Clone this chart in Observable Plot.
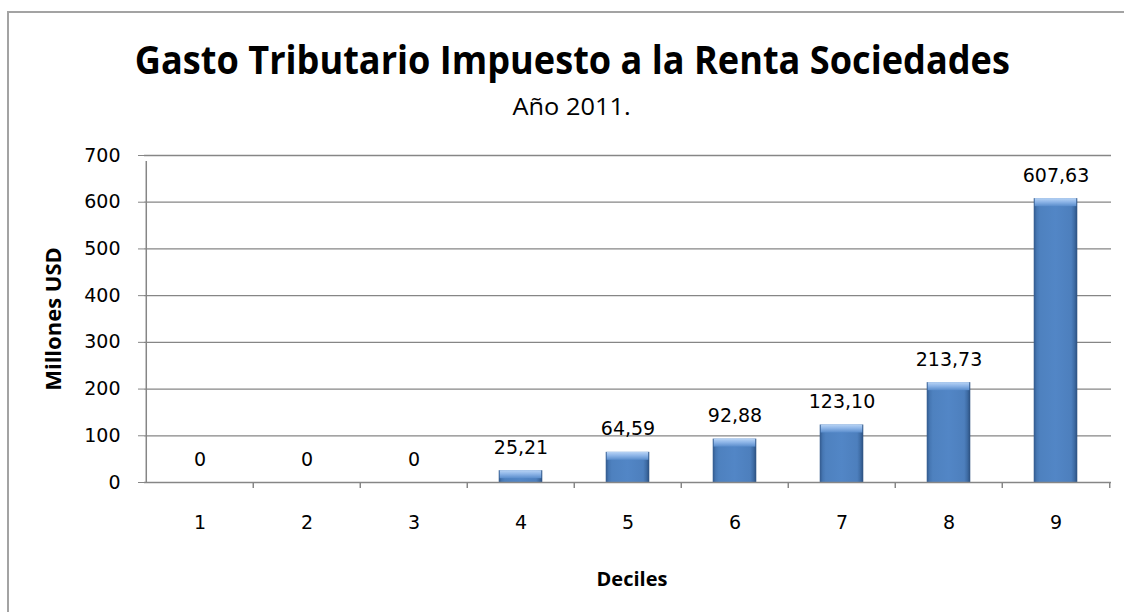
<!DOCTYPE html>
<html>
<head>
<meta charset="utf-8">
<script src="https://cdn.jsdelivr.net/npm/d3@7"></script>
<script src="https://cdn.jsdelivr.net/npm/@observablehq/plot@0.6"></script>
<style>
  html, body { margin: 0; padding: 0; background: #fff; overflow: hidden; }
  #wrap { position: relative; width: 1124px; height: 612px; overflow: hidden; background: #fff; }
  .fline { position: absolute; background: #a3a3a3; }
  #ftop { left: 7px; top: 11px; width: 1117px; height: 2px; }
  #fleft { left: 7px; top: 11px; width: 2px; height: 601px; }
  .ttl { position: absolute; white-space: nowrap; font-family: "Open Sans", sans-serif; color: #000; transform-origin: center; }
  #title { font-weight: bold; font-size: 39px; line-height: 39px; top: 39px; }
  #subtitle { font-weight: normal; font-size: 23px; line-height: 23px; top: 95px; }
  #chart { position: absolute; left: 0; top: 0; }
</style>
</head>
<body>
<div id="wrap">
  <div id="ftop" class="fline"></div>
  <div id="fleft" class="fline"></div>
  <div id="chart"></div>
  <div id="title" class="ttl">Gasto Tributario Impuesto a la Renta Sociedades</div>
  <div id="subtitle" class="ttl">Año 2011.</div>
</div>
<script>
// ---- data ----
const deciles = ["1", "2", "3", "4", "5", "6", "7", "8", "9"];
const values = [0, 0, 0, 25.21, 64.59, 92.88, 123.10, 213.73, 607.63];
const valueLabels = ["0", "0", "0", "25,21", "64,59", "92,88", "123,10", "213,73", "607,63"];
const yTicks = [0, 100, 200, 300, 400, 500, 600, 700];
const yLabel = "Millones USD";
const xLabel = "Deciles";

const data = deciles.map((d, i) => ({decil: d, v: values[i], label: valueLabels[i]}));
const nonZero = data.filter(d => d.v > 0);

// ---- layout ----
const W = 1124, H = 612;
const mL = 144, mR = 13, mT = 155, mB = 130;
const bw = (W - mL - mR) / deciles.length;
const barInset = (bw - 44) / 2;
const grid = "#868686";
const tickFont = "DejaVu Sans, sans-serif";

const chart = Plot.plot({
  width: W, height: H,
  marginLeft: mL, marginRight: mR, marginTop: mT, marginBottom: mB,
  style: {background: "transparent", color: "#000", fontFamily: tickFont, fontSize: "19px", overflow: "visible"},
  x: {domain: deciles, padding: 0, label: null},
  y: {domain: [0, 700], label: null},
  marks: [
    Plot.ruleY(yTicks.filter(t => t > 0), {stroke: grid, strokeWidth: 1.3}),
    Plot.barY(nonZero, {x: "decil", y: "v", insetLeft: barInset, insetRight: barInset, fill: "url(#barGrad)"}),
    Plot.barY(nonZero, {x: "decil", y1: "v", y2: "v", insetLeft: barInset + 1, insetRight: barInset + 1, insetBottom: -8, fill: "url(#bevelGrad)"}),
    Plot.ruleY([0], {stroke: grid, strokeWidth: 1.5}),
    Plot.ruleX([deciles[0]], {dx: -bw / 2, y1: 0, y2: 700, insetBottom: -6, stroke: grid, strokeWidth: 1.5}),
    Plot.ruleX(deciles.slice(1), {dx: -bw / 2, y1: 0, y2: 0, insetBottom: -6, stroke: grid, strokeWidth: 1.5}),
    Plot.ruleX([deciles[deciles.length - 1]], {dx: bw / 2, y1: 0, y2: 0, insetBottom: -6, stroke: grid, strokeWidth: 1.5}),
    Plot.axisY({ticks: yTicks, tickSize: 6, tickPadding: 18, stroke: grid, fill: "#000", fontSize: 19, label: null, tickFormat: d => String(d)}),
    Plot.axisX({tickSize: 0, tickPadding: 33, fill: "#000", fontSize: 19, label: null}),
    Plot.text(data, {x: "decil", y: "v", text: "label", dy: -23, lineAnchor: "middle", fill: "#000", fontSize: 19}),
    Plot.text([yLabel], {frameAnchor: "left", dx: -91, rotate: -90, textAnchor: "middle", lineAnchor: "middle",
      fontFamily: "Open Sans, sans-serif", fontWeight: "bold", fontSize: 22, fill: "#000"}),
    Plot.text([xLabel], {frameAnchor: "bottom", dy: 97, dx: 4, textAnchor: "middle", lineAnchor: "middle",
      fontFamily: "Open Sans, sans-serif", fontWeight: "bold", fontSize: 20, fill: "#000"})
  ]
});

// gradients for the bevelled Excel-like bars
const defs = d3.select(chart).insert("defs", ":first-child");
const g1 = defs.append("linearGradient").attr("id", "barGrad").attr("x1", 0).attr("x2", 1).attr("y1", 0).attr("y2", 0);
[["0%", "#32598c"], ["7%", "#4677b3"], ["14%", "#4e81bf"], ["50%", "#5286c6"], ["86%", "#4d7fbd"], ["93%", "#3f6da6"], ["100%", "#2b4f7e"]]
  .forEach(([o, c]) => g1.append("stop").attr("offset", o).attr("stop-color", c));
const g2 = defs.append("linearGradient").attr("id", "bevelGrad").attr("x1", 0).attr("x2", 0).attr("y1", 0).attr("y2", 1);
[["0%", "#b9d4f5"], ["45%", "#8fb6e8"], ["100%", "#5a8dcc"]]
  .forEach(([o, c]) => g2.append("stop").attr("offset", o).attr("stop-color", c));

document.getElementById("chart").appendChild(chart);

// fit the title texts to the reference widths (narrow Calibri-like look)
function fit(id, targetWidth, centerX) {
  const el = document.getElementById(id);
  const w = el.getBoundingClientRect().width;
  el.style.left = (centerX - w / 2) + "px";
  el.style.transform = `scaleX(${targetWidth / w})`;
}
fit("title", 875, 572);
fit("subtitle", 118, 572);
</script>
</body>
</html>
